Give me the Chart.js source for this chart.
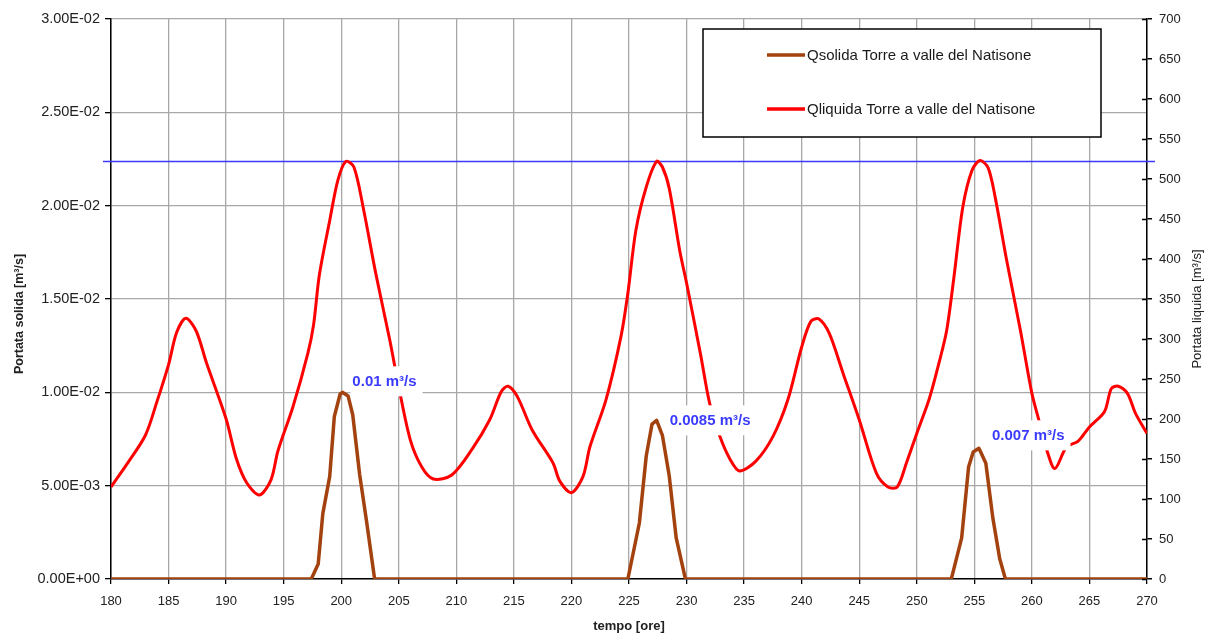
<!DOCTYPE html>
<html lang="it">
<head>
<meta charset="utf-8">
<title>Torre a valle del Natisone</title>
<script src="https://cdn.jsdelivr.net/npm/chart.js@4.4.1/dist/chart.umd.min.js"></script>
<style>
  html, body { margin: 0; padding: 0; background: #fff; }
</style>
</head>
<body>
<canvas id="portate" width="1207" height="635"></canvas>
<script>
// Liquid discharge (right axis): hours and m³/s
const liqHours = [180, 181.5, 183, 184, 185, 185.7, 186.5, 187.4, 188.3, 190, 190.9, 191.8, 192.9, 193.9, 194.5, 195.8,
    197.1, 197.6, 198.1, 199, 199.7, 200.4, 201.1, 201.9, 203, 204.2, 205, 206, 207, 208, 209.6, 211.4, 212.9, 213.9,
    214.5, 215.3, 216.6, 218.4, 219, 220, 221, 221.6, 223, 224.3, 224.9, 225.6, 226.5, 227.4, 227.9, 228.5, 229.4, 230,
    231.2, 232, 232.9, 233.8, 234.6, 236, 237.5, 238.8, 240, 240.8, 241.5, 242.4, 243.6, 245, 246.5, 247.5, 248.3, 249.1,
    250, 251.1, 252, 252.6, 253.2, 254, 254.8, 255.5, 256.2, 256.8, 257.8, 259, 260, 260.6, 261.3, 262, 263, 264, 265,
    266.3, 266.9, 267.5, 268.3, 269, 270];
const liqFlow = [115, 146, 180, 222, 268, 308, 326, 310, 270, 200, 150, 120, 105, 124, 160, 215,
    282, 318, 380, 448, 498, 522, 515, 465, 382, 300, 240, 174, 140, 125, 130, 163, 199, 234,
    241, 228, 186, 145, 122, 108, 128, 165, 224, 303, 357, 436, 490, 522, 515, 488, 411, 370,
    282, 220, 178, 149, 135, 147, 178, 224, 290, 322, 325, 307, 257, 199, 132, 115, 115, 145,
    182, 226, 274, 311, 374, 465, 511, 523, 514, 478, 399, 311, 232, 199, 161, 138, 165, 172, 190,
    209, 238, 241, 232, 207, 182];

// Solid discharge (left axis): hours and m³/s
const solHours = [180, 197.4, 198, 198.4, 199, 199.4, 199.9, 200.1, 200.6, 201, 201.6, 202.2, 202.9,
    224.9, 225.9, 226.5, 227, 227.4, 227.9, 228.5, 229.1, 229.9,
    253, 253.9, 254.5, 254.9, 255.4, 256, 256.6, 257.2, 257.7, 270];
const solFlow = [0, 0, 0.0008, 0.0035, 0.0055, 0.0087, 0.0099, 0.01, 0.0098, 0.0088, 0.0056, 0.0031, 0,
    0, 0.003, 0.0066, 0.0083, 0.0085, 0.0077, 0.0055, 0.0022, 0,
    0, 0.0022, 0.006, 0.0068, 0.007, 0.0062, 0.0033, 0.0011, 0, 0];

// Peak labels on the solid discharge
const peakHours = [200.1, 227.4, 255.4];
const peakLabels = ['0.01 m³/s', '0.0085 m³/s', '0.007 m³/s'];

// Reference level on the liquid discharge
const thresholdFlow = 523;

const seriesNames = ['Qsolida Torre a valle del Natisone', 'Qliquida Torre a valle del Natisone'];
const axisTitles = ['Portata solida [m³/s]', 'Portata liquida [m³/s]', 'tempo [ore]'];

const FONT = '"Liberation Sans", Arial, sans-serif';
const TEXT = '#222';
const GRID = '#a8a8a8';

// Excel style scientific labels: 2.50E-02
function sciLabel(value) {
    const parts = Number(value).toExponential(2).split('e');
    const exp = parseInt(parts[1], 10);
    const sign = exp < 0 ? '-' : '+';
    return parts[0] + 'E' + sign + String(Math.abs(exp)).padStart(2, '0');
}

function drawRotated(ctx, text, x, y, font) {
    ctx.save();
    ctx.translate(x, y);
    ctx.rotate(-Math.PI / 2);
    ctx.font = font;
    ctx.fillStyle = TEXT;
    ctx.textAlign = 'center';
    ctx.textBaseline = 'middle';
    ctx.fillText(text, 0, 0);
    ctx.restore();
}

// Horizontal level line, peak labels, legend box, y titles, inner ticks of the right axis
const extrasPlugin = {
    id: 'extras',
    beforeDatasetsDraw(chart) {
        const { ctx, chartArea, scales } = chart;
        const y = Math.round(scales.y2.getPixelForValue(thresholdFlow)) + 0.5;
        ctx.save();
        ctx.strokeStyle = '#3a3aff';
        ctx.lineWidth = 1.5;
        ctx.beginPath();
        ctx.moveTo(chartArea.left - 8, y);
        ctx.lineTo(chartArea.right + 8, y);
        ctx.stroke();
        ctx.restore();
    },
    afterDatasetsDraw(chart) {
        const { ctx, scales } = chart;
        const offsets = [[10, -11], [13, 0], [13, -13]];

        ctx.save();
        ctx.font = 'bold 15px ' + FONT;
        ctx.textBaseline = 'middle';
        peakHours.forEach((h, i) => {
            const idx = solHours.indexOf(h);
            const px = scales.x.getPixelForValue(h) + offsets[i][0];
            const py = scales.y.getPixelForValue(solFlow[idx]) + offsets[i][1];
            const w = ctx.measureText(peakLabels[i]).width;
            ctx.fillStyle = '#fff';
            ctx.fillRect(px - 2, py - 15, w + 8, 30);
            ctx.fillStyle = '#3b3bff';
            ctx.fillText(peakLabels[i], px, py + 1);
        });

        // legend
        const box = { left: 703, top: 29, width: 398, height: 108 };
        ctx.fillStyle = '#fff';
        ctx.fillRect(box.left, box.top, box.width, box.height);
        ctx.strokeStyle = '#000';
        ctx.lineWidth = 1.5;
        ctx.strokeRect(box.left, box.top, box.width, box.height);
        ctx.font = '15px ' + FONT;
        chart.data.datasets.forEach((ds, i) => {
            const y = 55 + i * 54;
            ctx.strokeStyle = ds.borderColor;
            ctx.lineWidth = 3.5;
            ctx.beginPath();
            ctx.moveTo(767, y);
            ctx.lineTo(805, y);
            ctx.stroke();
            ctx.fillStyle = '#1a1a1a';
            ctx.fillText(ds.label, 807, y + 1);
        });

        // right axis ticks cross the axis line
        const r = scales.y2;
        ctx.strokeStyle = '#000';
        ctx.lineWidth = 1.5;
        r.ticks.forEach(t => {
            const y = Math.round(r.getPixelForValue(t.value)) + 0.5;
            ctx.beginPath();
            ctx.moveTo(r.left - 5, y);
            ctx.lineTo(r.left, y);
            ctx.stroke();
        });
        ctx.restore();

        // vertical axis titles
        drawRotated(ctx, axisTitles[0], 20, 314, 'bold 12.5px ' + FONT);
        drawRotated(ctx, axisTitles[1], 1197, 309, '13px ' + FONT);
    }
};

new Chart(document.getElementById('portate'), {
    type: 'line',
    data: {
        datasets: [
            {
                label: seriesNames[0],
                data: solHours.map((h, i) => ({ x: h, y: solFlow[i] })),
                yAxisID: 'y',
                borderColor: '#a3420e',
                borderWidth: 3.5,
                borderJoinStyle: 'round',
                pointRadius: 0,
                tension: 0,
                fill: false
            },
            {
                label: seriesNames[1],
                data: liqHours.map((h, i) => ({ x: h, y: liqFlow[i] })),
                yAxisID: 'y2',
                borderColor: '#ff0000',
                borderWidth: 3,
                borderJoinStyle: 'round',
                pointRadius: 0,
                tension: 0.3,
                fill: false
            }
        ]
    },
    options: {
        responsive: false,
        animation: false,
        layout: { padding: { top: 19, left: 0, right: 0, bottom: 0 } },
        plugins: {
            legend: { display: false },
            tooltip: { enabled: false }
        },
        scales: {
            x: {
                type: 'linear',
                min: 180,
                max: 270,
                afterFit: scale => { scale.height = 56; },
                border: { color: '#000', width: 1.5 },
                grid: { color: GRID, lineWidth: 1.3, tickColor: '#000', tickLength: 5 },
                ticks: { stepSize: 5, autoSkip: false, maxRotation: 0, padding: 10, color: TEXT, font: { family: FONT, size: 13 } },
                title: { display: true, text: axisTitles[2], color: TEXT, padding: { top: 0, bottom: 1 }, font: { family: FONT, size: 13, weight: 'bold' } }
            },
            y: {
                position: 'left',
                min: 0,
                max: 0.03,
                afterFit: scale => { scale.width = 111; },
                border: { color: '#000', width: 1.5 },
                grid: { color: GRID, lineWidth: 1.3, tickColor: '#000', tickLength: 6 },
                ticks: { stepSize: 0.005, autoSkip: false, padding: 5, color: TEXT, font: { family: FONT, size: 14.5 }, callback: v => sciLabel(v) }
            },
            y2: {
                position: 'right',
                min: 0,
                max: 700,
                afterFit: scale => { scale.width = 60; },
                border: { color: '#000', width: 1.5 },
                grid: { drawOnChartArea: false, tickColor: '#000', tickLength: 5, lineWidth: 1.5 },
                ticks: { stepSize: 50, autoSkip: false, padding: 7, color: TEXT, font: { family: FONT, size: 13 } }
            }
        }
    },
    plugins: [extrasPlugin]
});
</script>
</body>
</html>
